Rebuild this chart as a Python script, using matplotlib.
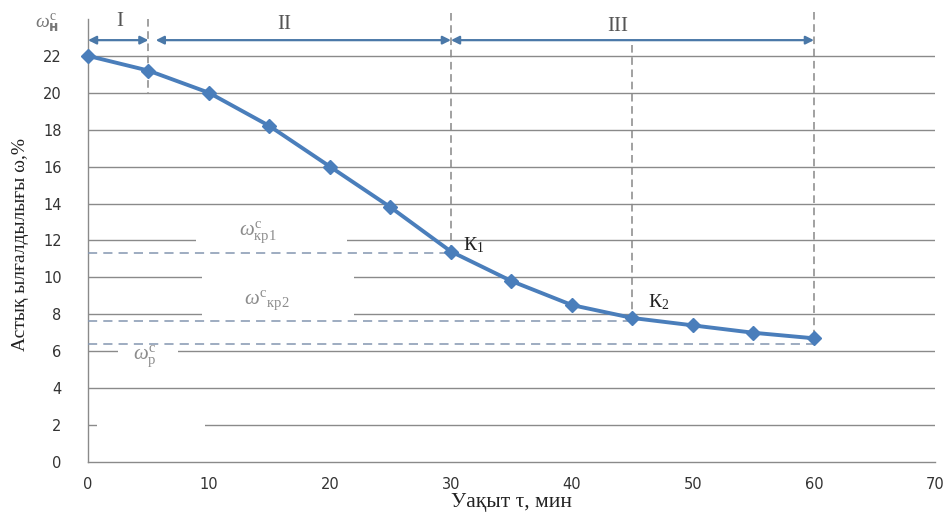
import matplotlib
matplotlib.use("Agg")
import matplotlib.pyplot as plt
from matplotlib.patches import Rectangle

# Drying curve: grain moisture vs time
time_min = [0, 5, 10, 15, 20, 25, 30, 35, 40, 45, 50, 55, 60]
moisture = [22.0, 21.2, 20.0, 18.2, 16.0, 13.8, 11.4, 9.8, 8.5, 7.8, 7.4, 7.0, 6.7]

# Characteristic moisture levels
w_kr1 = 11.3
w_kr2 = 7.65
w_p = 6.4

# Stage boundaries (minutes)
stage_bounds = [0, 5, 30, 60]
stage_names = ["I", "II", "III"]
k2_time = 45

x_ticks = [0, 10, 20, 30, 40, 50, 60, 70]
y_ticks = [0, 2, 4, 6, 8, 10, 12, 14, 16, 18, 20, 22]

plt.rcParams["mathtext.fontset"] = "custom"
plt.rcParams["mathtext.rm"] = "Liberation Serif"
plt.rcParams["mathtext.it"] = "Liberation Serif:italic"
plt.rcParams["mathtext.bf"] = "DejaVu Sans:bold"

fig = plt.figure(figsize=(9.49, 5.17), dpi=100)
ax = fig.add_axes([0.0927, 0.1064, 0.8925, 0.857])
ax.set_xlim(0, 70)
ax.set_ylim(0, 24)

grid_c = "#8a8a8a"
for y in y_ticks[1:]:
    ax.axhline(y, color=grid_c, lw=1.0, zorder=1)

for s in ["top", "right"]:
    ax.spines[s].set_visible(False)
for s in ["left", "bottom"]:
    ax.spines[s].set_color(grid_c)
    ax.spines[s].set_linewidth(1.0)

ax.set_xticks(x_ticks)
ax.set_yticks(y_ticks)
ax.tick_params(length=0, labelsize=10.5, colors="#333333", pad=11)
ax.tick_params(axis="y", pad=19)

# white gaps in the gridlines behind the level labels
gaps = [
    (8.9, 11.8, 12.5, 0.4),   # behind the кр1 label
    (9.4, 7.8, 12.6, 2.4),    # behind the кр2 label
    (2.5, 5.8, 4.9, 0.4),     # behind the р label
    (0.75, 1.8, 8.95, 0.4),   # gap at 2
]
for gx, gy, gw, gh in gaps:
    ax.add_patch(Rectangle((gx, gy), gw, gh, facecolor="white", edgecolor="none", zorder=2))

dash_c = "#8496b0"
vdash_c = "#888888"
# horizontal reference levels
ax.plot([0, stage_bounds[2]], [w_kr1, w_kr1], ls=(0, (6, 4)), color=dash_c, lw=1.1, zorder=3)
ax.plot([0, k2_time], [w_kr2, w_kr2], ls=(0, (6, 4)), color=dash_c, lw=1.1, zorder=3)
ax.plot([0, stage_bounds[3]], [w_p, w_p], ls=(0, (6, 4)), color=dash_c, lw=1.1, zorder=3)

# vertical stage boundaries
def value_at(t):
    return moisture[time_min.index(t)]

ax.plot([5, 5], [24.0, 20.0], ls=(0, (5, 3)), color=vdash_c, lw=1.1, clip_on=False, zorder=3)
ax.plot([30, 30], [24.3, value_at(30)], ls=(0, (5, 3)), color=vdash_c, lw=1.1, clip_on=False, zorder=3)
ax.plot([45, 45], [22.6, value_at(45)], ls=(0, (5, 3)), color=vdash_c, lw=1.1, clip_on=False, zorder=3)
ax.plot([60, 60], [24.4, value_at(60)], ls=(0, (5, 3)), color=vdash_c, lw=1.1, clip_on=False, zorder=3)

# stage arrows
arr_c = "#4a78a8"
arrow_y = 22.85
arrow_spans = [(0, 5), (5.6, 30), (30, 60)]
for x0, x1 in arrow_spans:
    ax.annotate("", xy=(x1, arrow_y), xytext=(x0, arrow_y),
                arrowprops=dict(arrowstyle="<|-|>", color=arr_c, lw=1.6,
                                mutation_scale=12, shrinkA=0, shrinkB=0),
                annotation_clip=False, zorder=4)

label_pos = [(2.6, 23.85), (16.2, 23.7), (43.8, 23.6)]
for name, (lx, ly) in zip(stage_names, label_pos):
    ax.text(lx, ly, name, family="Liberation Serif", fontsize=15, color="#555555",
            ha="center", va="center", zorder=5)

# drying curve
ax.plot(time_min, moisture, color="#4a7ebb", lw=2.8, marker="D", markersize=7.5,
        markerfacecolor="#4a7ebb", markeredgecolor="#4a7ebb", zorder=6, clip_on=False)

# level labels
lab_c = "#8c8c8c"
ax.text(14.0, 12.45, r"$\omega^{\mathrm{с}}_{\mathrm{кр1}}$", fontsize=15, color=lab_c,
        ha="center", va="center", zorder=4)
ax.text(14.8, 8.75, r"$\omega^{\mathrm{с}}{}_{\mathrm{кр2}}$", fontsize=15, color=lab_c,
        ha="center", va="center", zorder=4)
ax.text(4.7, 5.75, r"$\omega^{\mathrm{с}}_{\mathrm{р}}$", fontsize=15, color=lab_c,
        ha="center", va="center", zorder=4)

ax.text(31.0, 11.75, r"$\mathrm{К}_{\mathrm{1}}$", fontsize=14, color="#222222",
        ha="left", va="center", zorder=7)
ax.text(46.3, 8.65, r"$\mathrm{К}_{\mathrm{2}}$", fontsize=14, color="#222222",
        ha="left", va="center", zorder=7)

# initial moisture label at the top of the axis
ax.text(-3.4, 23.75, r"$\omega^{\mathrm{с}}_{\mathbf{н}}$", fontsize=14, color="#777777",
        ha="center", va="center", clip_on=False)

ax.set_xlabel("Уақыт τ, мин", family="Liberation Serif", fontsize=15.5, color="#222222")
ax.set_ylabel("Астық ылғалдылығы ω,%", family="Liberation Serif", fontsize=14,
              color="#222222")
ax.xaxis.set_label_coords(0.5, -0.07)
ax.yaxis.set_label_coords(-0.07, 0.49)

fig.savefig("out.png", dpi=100, facecolor="white")
